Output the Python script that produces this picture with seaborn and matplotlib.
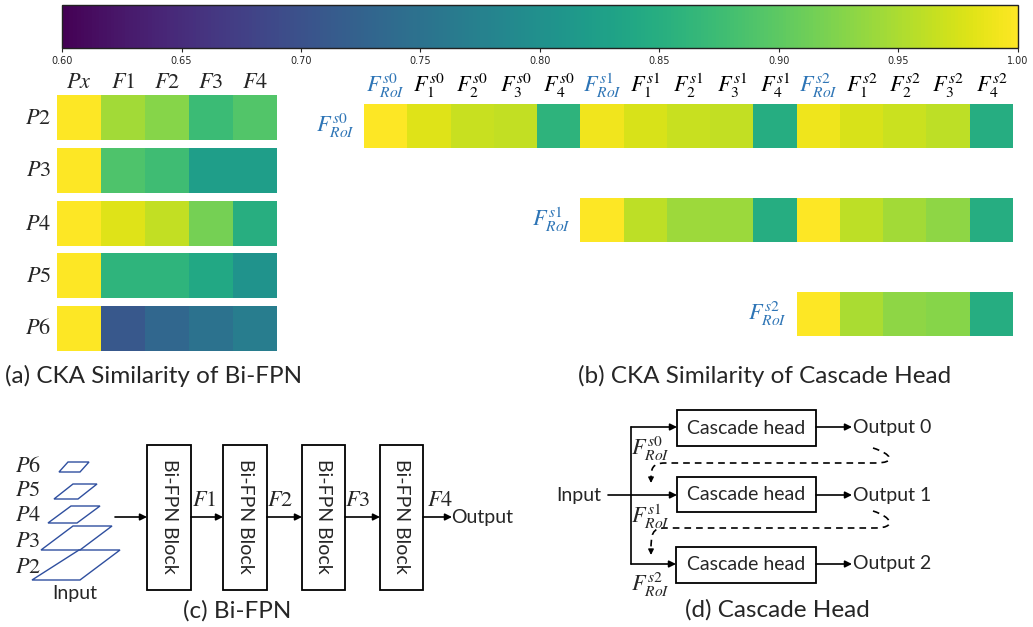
import numpy as np
import pandas as pd
import matplotlib
matplotlib.use("Agg")
import matplotlib.pyplot as plt
import seaborn as sns
from matplotlib.patches import Rectangle, Polygon, PathPatch
from matplotlib.path import Path
from matplotlib.cm import ScalarMappable
from matplotlib.colors import Normalize

sns.set_theme(style="white")
plt.rcParams['font.family'] = ['Lato', 'DejaVu Sans']
plt.rcParams['mathtext.fontset'] = 'stix'

# ---------------- data ----------------
a_rows = ['P2', 'P3', 'P4', 'P5', 'P6']
a_cols = ['Px', 'F1', 'F2', 'F3', 'F4']
a_P2 = [1.00, 0.944, 0.928, 0.872, 0.892]
a_P3 = [1.00, 0.888, 0.876, 0.822, 0.822]
a_P4 = [1.00, 0.980, 0.964, 0.916, 0.850]
a_P5 = [1.00, 0.860, 0.860, 0.840, 0.806]
a_P6 = [1.00, 0.708, 0.732, 0.750, 0.768]

b_rows = ['s0', 's1', 's2']
b_cols = ['RoI^s0', '1^s0', '2^s0', '3^s0', '4^s0',
          'RoI^s1', '1^s1', '2^s1', '3^s1', '4^s1',
          'RoI^s2', '1^s2', '2^s2', '3^s2', '4^s2']
nan = np.nan
b_s0 = [1.00, 0.980, 0.966, 0.964, 0.858, 0.992, 0.976, 0.966, 0.964, 0.848,
        0.990, 0.975, 0.968, 0.960, 0.848]
b_s1 = [nan, nan, nan, nan, nan, 1.00, 0.960, 0.942, 0.940, 0.848,
        1.00, 0.960, 0.944, 0.932, 0.848]
b_s2 = [nan, nan, nan, nan, nan, nan, nan, nan, nan, nan,
        1.00, 0.950, 0.932, 0.928, 0.848]

VMIN, VMAX = 0.60, 1.00
cbar_ticks = [0.60, 0.65, 0.70, 0.75, 0.80, 0.85, 0.90, 0.95, 1.00]

W, H = 1033, 627
BLUE = '#2e75b6'
MFS = 16      # math label size
CAP = 17.5    # caption size
TFS = 14      # diagram text size
fig = plt.figure(figsize=(W / 100, H / 100), dpi=100)


def ax_px(x0, y0, x1, y1):
    return fig.add_axes([x0 / W, 1 - y1 / H, (x1 - x0) / W, (y1 - y0) / H])


# overlay axes for diagrams / captions (pixel coords)
ov = fig.add_axes([0, 0, 1, 1])
ov.set_xlim(0, W)
ov.set_ylim(H, 0)
ov.axis('off')

# ---------------- colorbar ----------------
cax = ax_px(62, 5, 1018, 48)
sm = ScalarMappable(norm=Normalize(VMIN, VMAX), cmap='viridis')
cb = fig.colorbar(sm, cax=cax, orientation='horizontal', ticks=cbar_ticks)
cb.ax.set_xticklabels([f"{t:.2f}" for t in cbar_ticks], fontsize=7,
                      family='DejaVu Sans')
cb.ax.tick_params(length=3, width=0.8, pad=3, bottom=True)
cb.outline.set_edgecolor('#222222')
cb.outline.set_linewidth(1.0)

# ---------------- heatmap (a) ----------------
a_data = pd.DataFrame([a_P2, a_P3, a_P4, a_P5, a_P6], index=a_rows, columns=a_cols)
a_tops = [95, 148, 201, 253, 306]
for i, r in enumerate(a_rows):
    ax = ax_px(57, a_tops[i], 277, a_tops[i] + 45)
    sns.heatmap(a_data.iloc[[i]], ax=ax, cmap='viridis', vmin=VMIN, vmax=VMAX,
                cbar=False, xticklabels=False, yticklabels=False)
    ax.text(-0.13, 0.5, f"${r}$", ha='right', va='center',
            fontsize=MFS, transform=ax.transData, clip_on=False)
    if i == 0:
        for j, c in enumerate(a_cols):
            ax.text(j + 0.5, -0.07, f"${c}$", ha='center', va='bottom',
                    fontsize=MFS, clip_on=False)

# ---------------- heatmap (b) ----------------
b_data = pd.DataFrame([b_s0, b_s1, b_s2], index=b_rows, columns=b_cols)
b_tops = [104, 198, 292]
for i, r in enumerate(b_rows):
    ax = ax_px(364, b_tops[i], 1013, b_tops[i] + 44)
    sns.heatmap(b_data.iloc[[i]], ax=ax, cmap='viridis', vmin=VMIN, vmax=VMAX,
                cbar=False, xticklabels=False, yticklabels=False)
    first = int(np.argmax(~np.isnan(b_data.iloc[i].values)))
    ax.text(first - 0.22, 0.5, f"$F^{{{r}}}_{{RoI}}$", ha='right', va='center',
            fontsize=MFS, color=BLUE, clip_on=False)
    if i == 0:
        for j, c in enumerate(b_cols):
            sub, sup = c.split('^')
            col = BLUE if sub == 'RoI' else 'black'
            ax.text(j + 0.5, -0.08, f"$F^{{{sup}}}_{{{sub}}}$", ha='center',
                    va='bottom', fontsize=MFS, color=col, clip_on=False)

# ---------------- captions ----------------
ov.text(154, 376, "(a) CKA Similarity of Bi-FPN", ha='center', va='center',
        fontsize=CAP)
ov.text(765, 376, "(b) CKA Similarity of Cascade Head", ha='center',
        va='center', fontsize=CAP)
ov.text(237, 611, "(c) Bi-FPN", ha='center', va='center', fontsize=CAP)
ov.text(777, 610, "(d) Cascade Head", ha='center', va='center', fontsize=CAP)

# ---------------- diagram (c) ----------------
PB = '#2f4f9f'
planes = {  # (top_y, top_x0, top_x1, bot_y, bot_x0, bot_x1, label_y)
    'P6': (462, 68, 89, 472, 59, 80, 466),
    'P5': (484, 73, 97, 499, 54, 78, 490),
    'P4': (506, 71, 100, 523, 48, 77, 515),
    'P3': (526, 73, 112, 550, 41, 80, 541),
    'P2': (550, 79, 120, 580, 32, 80, 567),
}
for name, (ty, tx0, tx1, by, bx0, bx1, ly) in planes.items():
    ov.add_patch(Polygon([(tx0, ty), (tx1, ty), (bx1, by), (bx0, by)],
                         closed=True, fill=False, edgecolor=PB, lw=1.0))
    ov.text(28, ly, f"${name}$", ha='center', va='center', fontsize=MFS)
ov.text(75, 594, "Input", ha='center', va='center', fontsize=TFS)

arrow_kw = dict(arrowstyle='-|>', color='black', lw=1.2, mutation_scale=10,
                shrinkA=0, shrinkB=0)
blocks_x = [(147, 191), (223, 267), (302, 345), (380, 423)]
for (x0, x1) in blocks_x:
    ov.add_patch(Rectangle((x0, 445), x1 - x0, 145, fill=False,
                           edgecolor='black', lw=1.3))
    ov.text((x0 + x1) / 2, 516, "Bi-FPN Block", rotation=-90, ha='center',
            va='center', fontsize=TFS)
ov.annotate("", xy=(147, 517), xytext=(115, 517), arrowprops=arrow_kw)
for k in range(3):
    ov.annotate("", xy=(blocks_x[k + 1][0], 517), xytext=(blocks_x[k][1], 517),
                arrowprops=arrow_kw)
    ov.text(blocks_x[k][1] + 13, 500, f"$F{k + 1}$", ha='center', va='center',
            fontsize=MFS)
ov.annotate("", xy=(452, 517), xytext=(423, 517), arrowprops=arrow_kw)
ov.text(440, 500, "$F4$", ha='center', va='center', fontsize=MFS)
ov.text(451, 518, "Output", ha='left', va='center', fontsize=TFS)

# ---------------- diagram (d) ----------------
box_y = [(410, 446), (477, 512), (547, 583)]
out_y = [427, 495, 564]
for k, (y0, y1) in enumerate(box_y):
    x0 = 677 if k < 2 else 676
    ov.add_patch(Rectangle((x0, y0), 816 - x0, y1 - y0, fill=False,
                           edgecolor='black', lw=1.3))
    ov.text((x0 + 816) / 2, (y0 + y1) / 2, "Cascade head", ha='center',
            va='center', fontsize=TFS)
    ov.annotate("", xy=(852, out_y[k]), xytext=(816, out_y[k]),
                arrowprops=arrow_kw)
    ov.text(853, out_y[k], f"Output {k}", ha='left', va='center', fontsize=TFS)

ov.plot([631, 631], [427, 564], color='black', lw=1.2)
ov.annotate("", xy=(677, 427), xytext=(631, 427), arrowprops=arrow_kw)
ov.annotate("", xy=(676, 564), xytext=(631, 564), arrowprops=arrow_kw)
ov.annotate("", xy=(677, 495), xytext=(608, 495), arrowprops=arrow_kw)
ov.text(579, 495, "Input", ha='center', va='center', fontsize=TFS)
for k, ly in enumerate([449, 517, 585]):
    ov.text(650, ly, f"$F^{{s{k}}}_{{RoI}}$", ha='center', va='center',
            fontsize=MFS)

for (ys, yh, ye) in [(448, 463, 483), (511, 528, 555)]:
    verts = [(873, ys), (892, ys + 6), (897, yh), (875, yh),
             (665, yh), (652, yh), (651, yh + 6), (651, ye - 4)]
    codes = [Path.MOVETO, Path.CURVE4, Path.CURVE4, Path.CURVE4,
             Path.LINETO, Path.CURVE4, Path.CURVE4, Path.CURVE4]
    ov.add_patch(PathPatch(Path(verts, codes), fill=False, edgecolor='black',
                           lw=1.2, linestyle=(0, (4, 3))))
    ov.annotate("", xy=(651, ye), xytext=(651, ye - 5),
                arrowprops=dict(arrowstyle='-|>', color='black', lw=1.0,
                                mutation_scale=8, shrinkA=0, shrinkB=0))

fig.savefig("out.png", dpi=100)
